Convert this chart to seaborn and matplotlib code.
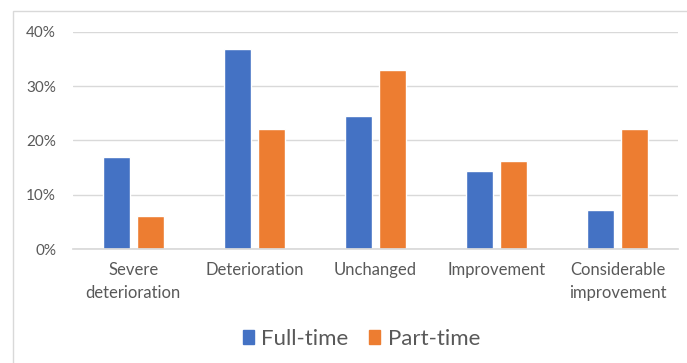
import matplotlib
matplotlib.use("Agg")
import matplotlib.pyplot as plt
from matplotlib.patches import Rectangle
from matplotlib.ticker import PercentFormatter
import pandas as pd
import seaborn as sns

categories = ["Severe\ndeterioration", "Deterioration", "Unchanged",
              "Improvement", "Considerable\nimprovement"]
full_time = [16.9, 36.9, 24.6, 14.4, 7.2]
part_time = [6.1, 22.2, 33.0, 16.3, 22.2]
series_names = ["Full-time", "Part-time"]
colors = ["#4472C4", "#ED7D31"]

df = pd.DataFrame({
    "category": categories * 2,
    "value": full_time + part_time,
    "series": [series_names[0]] * len(categories) + [series_names[1]] * len(categories),
})

sns.set_theme(style="white")
plt.rcParams["font.family"] = ["Lato", "DejaVu Sans"]

fig = plt.figure(figsize=(6.87, 3.63), dpi=100)
ax = fig.add_axes([0.106, 0.314, 0.881, 0.598])

sns.barplot(data=df, x="category", y="value", hue="series", palette=colors,
            width=0.56, gap=0.2, ax=ax, legend=False, saturation=1)

ax.set_ylim(0, 40)
ax.set_yticks([0, 10, 20, 30, 40])
ax.yaxis.set_major_formatter(PercentFormatter(decimals=0))
ax.grid(axis="y", color="#d9d9d9", linewidth=1)
ax.set_axisbelow(True)
for s in ["top", "right", "left"]:
    ax.spines[s].set_visible(False)
ax.spines["bottom"].set_color("#d9d9d9")
ax.tick_params(axis="both", length=0, colors="#595959")
ax.tick_params(axis="y", pad=12, labelsize=11)
ax.tick_params(axis="x", pad=9, labelsize=12)
for lbl in ax.get_xticklabels():
    lbl.set_linespacing(1.6)
ax.set_xlabel("")
ax.set_ylabel("")

# legend below the plot
handles = [Rectangle((0, 0), 1, 1, color=c) for c in colors]
fig.legend(handles, series_names, loc="center", bbox_to_anchor=(0.526, 0.067),
           ncol=2, frameon=False, fontsize=16, handlelength=0.5,
           handleheight=0.62, handletextpad=0.32, columnspacing=0.95,
           labelcolor="#595959")

# chart frame
fig.patches.append(Rectangle((13 / 687, -0.05), 0.99, 1 - 11 / 363 + 0.05,
                             transform=fig.transFigure, fill=False,
                             edgecolor="#d9d9d9", linewidth=1))

fig.savefig("out.png", dpi=100)
